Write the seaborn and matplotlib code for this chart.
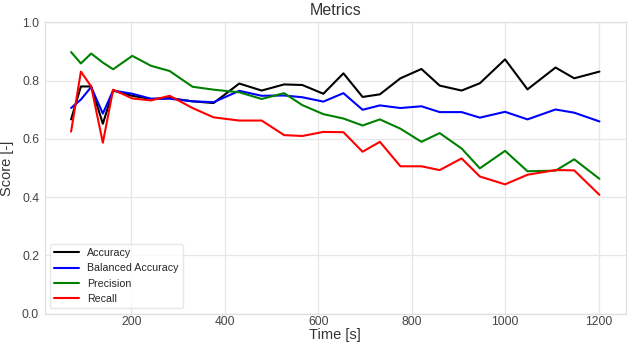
import matplotlib
matplotlib.use("Agg")
import matplotlib.pyplot as plt
import seaborn as sns
import pandas as pd

time_s = [71, 92, 114, 139, 161, 202, 242, 282, 331, 376, 431, 479, 527, 566,
          611, 654, 695, 732, 776, 821, 860, 907, 946, 1000, 1048, 1108, 1148, 1202]
accuracy = [0.667, 0.780, 0.780, 0.652, 0.766, 0.748, 0.737, 0.740, 0.729, 0.723,
            0.790, 0.766, 0.787, 0.785, 0.755, 0.825, 0.744, 0.753, 0.808, 0.840,
            0.783, 0.766, 0.791, 0.873, 0.770, 0.845, 0.808, 0.831]
balanced_accuracy = [0.706, 0.735, 0.778, 0.687, 0.766, 0.755, 0.738, 0.738, 0.729, 0.726,
                     0.765, 0.748, 0.749, 0.743, 0.728, 0.757, 0.700, 0.715, 0.706, 0.712,
                     0.692, 0.692, 0.673, 0.693, 0.667, 0.701, 0.690, 0.660]
precision = [0.898, 0.859, 0.893, 0.862, 0.839, 0.885, 0.851, 0.833, 0.779, 0.769,
             0.760, 0.737, 0.757, 0.716, 0.685, 0.670, 0.646, 0.667, 0.635, 0.590,
             0.620, 0.567, 0.499, 0.559, 0.489, 0.491, 0.530, 0.463]
recall = [0.625, 0.831, 0.780, 0.587, 0.769, 0.739, 0.732, 0.748, 0.706, 0.674,
          0.663, 0.663, 0.613, 0.610, 0.624, 0.623, 0.556, 0.590, 0.506, 0.506,
          0.493, 0.533, 0.471, 0.444, 0.477, 0.493, 0.492, 0.408]

metric_names = ["Accuracy", "Balanced Accuracy", "Precision", "Recall"]
metric_colors = ["black", "blue", "green", "red"]

series = [accuracy, balanced_accuracy, precision, recall]
rows = []
for name, vals in zip(metric_names, series):
    for t, v in zip(time_s, vals):
        rows.append({"Time": t, "Score": v, "Metric": name})
df = pd.DataFrame(rows)

sns.set_theme(style="whitegrid", context="notebook",
              rc={"grid.color": "#e6e6e6", "axes.edgecolor": "#e0e0e0",
                  "grid.linewidth": 0.9, "axes.linewidth": 0.9})
plt.rcParams['font.family'] = ['Liberation Sans', 'DejaVu Sans']

fig, ax = plt.subplots(figsize=(6.29, 3.44), dpi=100)
sns.lineplot(data=df, x="Time", y="Score", hue="Metric", hue_order=metric_names,
             palette=dict(zip(metric_names, metric_colors)), linewidth=1.5, ax=ax)
ax.set_ylim(0.0, 1.0)
ax.set_title("Metrics", fontsize=11.5, color="#333333", pad=5)
ax.set_xlabel("Time [s]", fontsize=10.5, color="#333333", labelpad=0)
ax.set_ylabel("Score [-]", fontsize=10.5, color="#333333", labelpad=6)
ax.tick_params(axis="x", length=0, labelsize=8.7, labelcolor="#444444", pad=1.5)
ax.tick_params(axis="y", length=0, labelsize=8.7, labelcolor="#444444", pad=4)
leg = ax.legend(loc="lower left", fontsize=7.7, frameon=True, title=None,
                borderaxespad=0.5, handlelength=2.3)
leg.get_frame().set_edgecolor("#e0e0e0")
fig.subplots_adjust(left=0.071, right=0.995, top=0.935, bottom=0.088)
fig.savefig("out.png", dpi=100)
